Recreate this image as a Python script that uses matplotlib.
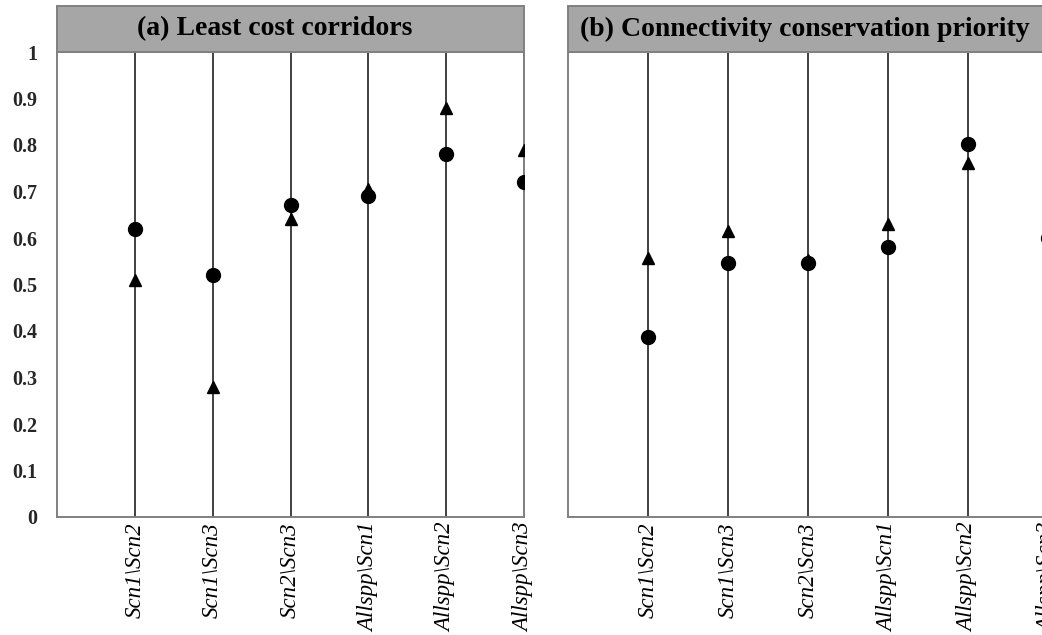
import matplotlib.pyplot as plt
from matplotlib.patches import Rectangle
from matplotlib.transforms import ScaledTranslation

plt.rcParams['font.family'] = ['Liberation Serif', 'DejaVu Serif']

categories = ["Scn1\\Scn2", "Scn1\\Scn3", "Scn2\\Scn3", "Allspp\\Scn1", "Allspp\\Scn2", "Allspp\\Scn3"]
titles = ["(a) Least cost corridors", "(b) Connectivity conservation priority"]

# circle and triangle series for each panel
circle_a = [0.62, 0.52, 0.67, 0.69, 0.78, 0.72]
triangle_a = [0.51, 0.28, 0.64, 0.705, 0.88, 0.79]
circle_b = [0.387, 0.546, 0.546, 0.58, 0.802, 0.60]
triangle_b = [0.557, 0.615, 0.553, 0.63, 0.761, 0.635]

yticks = [0, 0.1, 0.2, 0.3, 0.4, 0.5, 0.6, 0.7, 0.8, 0.9, 1]
ytick_labels = ["0", "0.1", "0.2", "0.3", "0.4", "0.5", "0.6", "0.7", "0.8", "0.9", "1"]

fig = plt.figure(figsize=(10.42, 6.35), dpi=100)
ax_a = fig.add_axes([57 / 1042, 1 - 517 / 635, 467 / 1042, 465 / 635])
ax_b = fig.add_axes([568 / 1042, 1 - 517 / 635, 480 / 1042, 465 / 635])

panels = [(ax_a, circle_a, triangle_a, titles[0], 2.8), (ax_b, circle_b, triangle_b, titles[1], 2.96)]

for ax, circ, tri, title, title_x in panels:
    x = list(range(1, len(categories) + 1))
    ax.vlines(x, 0, 1, color="#404040", linewidth=1.4, zorder=1)
    ax.plot(x, tri, linestyle="none", marker="^", markersize=9, color="black", zorder=3)
    ax.plot(x, circ, linestyle="none", marker="o", markersize=10, color="black", zorder=3)
    ax.set_xlim(0, 6)
    ax.set_ylim(0, 1)
    for s in ax.spines.values():
        s.set_color("#808080")
        s.set_linewidth(1.4)
    ax.set_xticks(x)
    ax.set_xticklabels(categories, rotation=90, fontsize=16.5, style="italic", va="top")
    for lab in ax.get_xticklabels():
        lab.set_transform(lab.get_transform() + ScaledTranslation(-5 / 72, 0, fig.dpi_scale_trans))
    ax.tick_params(axis="x", length=0, pad=4)
    ax.tick_params(axis="y", length=0, pad=14)

    # grey title box on top of the plot area
    box_h = 46 / 465
    ax.add_patch(Rectangle((0, 1), 1, box_h, transform=ax.transAxes, facecolor="#a6a6a6",
                           edgecolor="#808080", linewidth=1.4, clip_on=False, zorder=5))
    ax.text(title_x / 6, 1 + box_h / 2, title, transform=ax.transAxes, ha="center", va="center",
            fontsize=20, fontweight="bold", color="black", zorder=6)

ax_a.set_yticks(yticks)
ax_a.set_yticklabels(ytick_labels, fontsize=14.5, fontweight="bold", color="#262626")
ax_b.set_yticks([])

fig.savefig("out.png", dpi=100)
